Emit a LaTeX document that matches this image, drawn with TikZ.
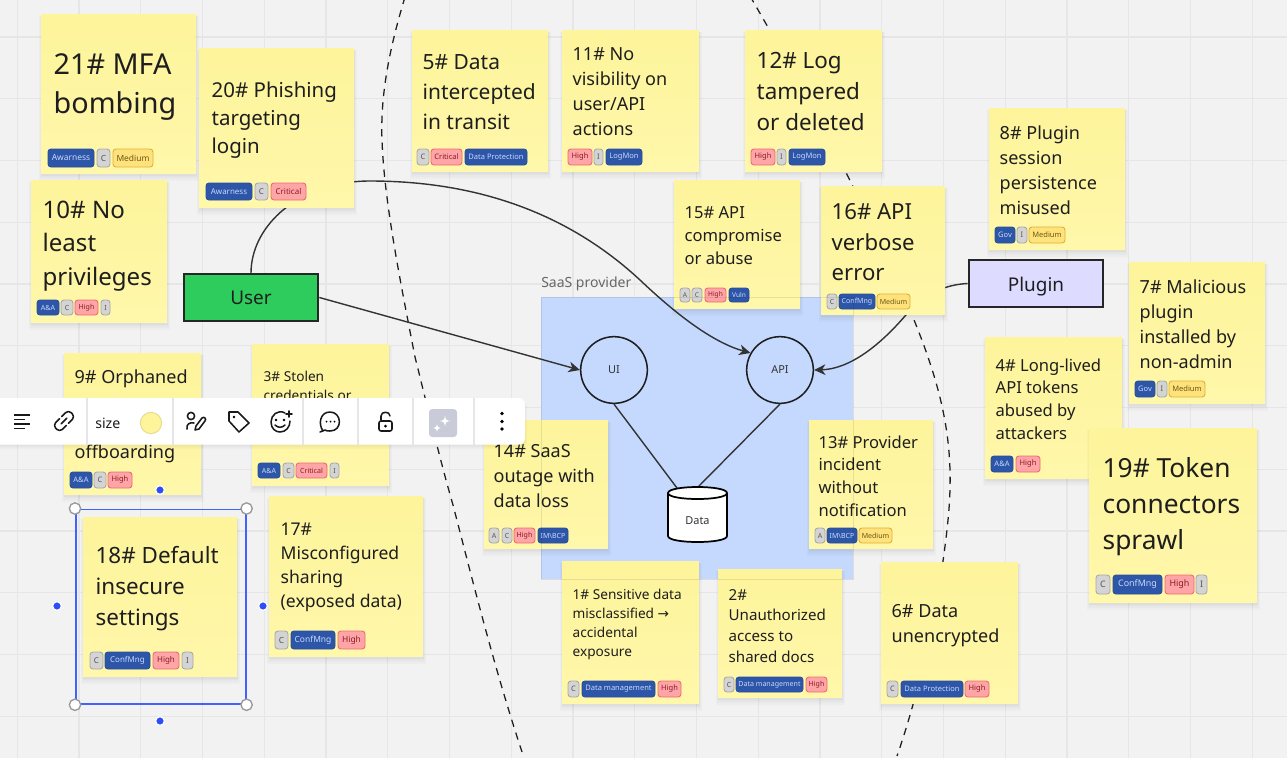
\documentclass[tikz,border=0pt]{standalone}
\usepackage{fontspec}
\setmainfont{Noto Sans}
\newfontfamily\arrowfont{DejaVu Sans}
\usetikzlibrary{arrows.meta,shapes.geometric,calc}
\definecolor{bgc}{HTML}{F2F2F2}
\definecolor{gridc}{HTML}{E6E6E6}
\definecolor{notetop}{HTML}{FDF49B}
\definecolor{notebot}{HTML}{FFF7AA}
\definecolor{inkc}{HTML}{1E1E1E}
\definecolor{linec}{HTML}{333333}
\definecolor{tbluef}{HTML}{2D56A8}
\definecolor{tblued}{HTML}{2A4F9E}
\definecolor{tbluet}{HTML}{C9D8FA}
\definecolor{tgrayf}{HTML}{D4D4D4}
\definecolor{tgrayd}{HTML}{A8A8A8}
\definecolor{tgrayt}{HTML}{555555}
\definecolor{tredf}{HTML}{FFA5A7}
\definecolor{tredd}{HTML}{EC6A70}
\definecolor{tredt}{HTML}{8A1C24}
\definecolor{tyelf}{HTML}{FFE27C}
\definecolor{tyeld}{HTML}{DDB035}
\definecolor{tyelt}{HTML}{6B5A12}
\definecolor{selc}{HTML}{4262FF}
\definecolor{dotc}{HTML}{2F4DF5}
\definecolor{sepc}{HTML}{E6E6EA}
\definecolor{saasc}{HTML}{C4D9FD}
\tikzset{
  notebox/.style={anchor=north west,inner sep=0pt,outer sep=0pt,shade,top color=notetop,bottom color=notebot},
  notetext/.style={anchor=north west,inner sep=0pt,align=left,text=inkc},
  softshadow/.style={black,opacity=.02},
  tagbase/.style={rounded corners=2.2pt,line width=.65pt,inner sep=0pt},
  tb/.style={tagbase,fill=tbluef,draw=tblued,text=tbluet},
  tg/.style={tagbase,fill=tgrayf,draw=tgrayd,text=tgrayt},
  tr/.style={tagbase,fill=tredf,draw=tredd,text=tredt},
  ty/.style={tagbase,fill=tyelf,draw=tyeld,text=tyelt},
  actor/.style={draw=black!85,line width=1.5pt,text=inkc,font=\fontsize{14.2pt}{16pt}\selectfont,inner sep=0pt,text depth=0pt},
  svc/.style={circle,draw=inkc,line width=1.15pt,minimum size=50pt,inner sep=0pt,text=linec,font=\fontsize{8.2pt}{10pt}\selectfont},
  conn/.style={draw=linec,line width=1.05pt},
  arrowed/.style={conn,-{Stealth[length=8.5pt,width=8pt,inset=2.6pt]}},
  bound/.style={draw=inkc,line width=.95pt,dash pattern=on 5.5pt off 4.6pt},
  handle/.style={circle,fill=white,draw=black!40,line width=1pt,minimum size=8.5pt,inner sep=0pt},
  bluedot/.style={circle,fill=dotc,draw=white,line width=.9pt,minimum size=6.5pt,inner sep=0pt},
  icon/.style={draw=black!90,line width=1.15pt,line cap=round,line join=round},
  tbsep/.style={draw=sepc,line width=.8pt}
}
% id x0 y0 x1 y1
\newcommand\notebox[5]{%
  \fill[softshadow] ({#2-2},{#3+2}) rectangle ({#4+3},{#5+8});
  \fill[softshadow] ({#2-1},{#3+2}) rectangle ({#4+2},{#5+6});
  \fill[softshadow] (#2,{#3+2}) rectangle ({#4+1},{#5+4});
  \fill[softshadow] (#2,{#3+2}) rectangle ({#4+1},{#5+2.5});
  \node[notebox,minimum width={(#4-#2)*0.75pt},minimum height={(#5-#3)*0.75pt}] (#1) at (#2,#3) {};}
% id x baseline fontpx spacingpx text
\newcommand\notetxt[6]{%
  \pgfmathsetmacro\nfs{#4*0.75*0.975}\pgfmathsetmacro\nls{#5*0.75}\pgfmathsetmacro\nem{#4*0.975}%
  \node[notetext,font=\fontsize{\nfs pt}{\nls pt}\selectfont] (#1) at ({#2-0.6},{#3-\nem}) {\rule{0pt}{1em}#6};}
% id y0 y1 list of style/x0/x1/text
\newcommand\tagrow[4]{%
  \pgfmathsetmacro\tfs{(#3-#2)*0.75*0.47}%
  \foreach \st/\xa/\xb/\tx [count=\ti] in {#4}{%
    \node[\st,minimum width={(\xb-\xa)*0.75pt},minimum height={(#3-#2)*0.75pt},
      font=\fontsize{\tfs pt}{\tfs pt}\selectfont] (#1-\ti) at ({(\xa+\xb)/2},{(#2+#3)/2}) {\tx};}}
\begin{document}
\begin{tikzpicture}[x=0.75pt,y=-0.75pt]
\useasboundingbox (0,0) rectangle (1287,758);
\clip (0,0) rectangle (1287,758);
\fill[bgc] (0,0) rectangle (1287,758);
% grid
\foreach \k in {0,...,20}{\draw[gridc,line width=.85pt] ({17.25+61.75*\k},0) -- ({17.25+61.75*\k},758);}
\foreach \k in {0,...,11}{\draw[gridc,line width=.85pt] (0,{37+61.75*\k}) -- (1287,{37+61.75*\k});}
% trust boundaries
\coordinate (bla) at (405,-3);
\coordinate (blb) at (522,752);
\draw[bound] (bla) .. controls (392,40) and (380,90) .. (382,140) .. controls (384,200) and (400,280) .. (415,357) .. controls (427,405) and (440,460) .. (453,505) .. controls (475,590) and (495,670) .. (blb);
\coordinate (bra) at (750,-4);
\coordinate (brb) at (897,756);
\draw[bound] (bra) .. controls (790,65) and (850,170) .. (912,315) .. controls (945,395) and (955,450) .. (948,520) .. controls (940,600) and (920,690) .. (brb);
% provider
\node[anchor=north west,inner sep=0pt,outer sep=0pt,fill=saasc,minimum width=234pt,minimum height=211.5pt] (saas) at (541,297) {};
\node[anchor=base west,inner sep=0pt,text=black!60,font=\fontsize{10.5pt}{12pt}\selectfont] (saaslbl) at (541,287) {SaaS provider};
% nodes
\node[actor,fill={rgb,255:red,46;green,204;blue,92},minimum width=101pt,minimum height=35pt,text height=11.2pt] (user) at (251,297.5) {User};
\node[actor,fill={rgb,255:red,221;green,219;blue,255},minimum width=101pt,minimum height=35pt,text height=12pt] (plugin) at (1036,283.5) {Plugin};
\node[svc] (ui) at (614,370) {UI};
\node[svc] (api) at (780,370) {API};
\coordinate (dataL) at (677,488);
\coordinate (dataR) at (698,487);
% connectors
\draw[arrowed] (user.east) -- (ui.west);
\draw[arrowed] (user.north) .. controls (251,225) and (300,181) .. (370,181) .. controls (480,181) and (570,215) .. (640,280) .. controls (680,318) and (715,343) .. (api.150);
\draw[arrowed] (plugin.west) .. controls (935,285) and (917,303) .. (905,316) .. controls (880,345) and (850,369) .. (api.east);
\draw[conn] (ui.south) -- (dataL);
\draw[conn] (api.south) -- (dataR);
% data store
\filldraw[fill=white,draw=black,line width=1.3pt] (668,493) .. controls (668,485) and (727,485) .. (727,493) -- (727,536) .. controls (727,544) and (668,544) .. (668,536) -- cycle;
\draw[black,line width=1.3pt] (668,493) .. controls (668,501) and (727,501) .. (727,493);
\node[inner sep=0pt,text=linec,font=\fontsize{8.2pt}{10pt}\selectfont] (data) at (697.5,521) {Data};
% notes
\notebox{n21}{41}{14}{196}{173}
\notetxt{t21}{54}{74}{29.5}{39.5}{21\# MFA\\bombing}
\tagrow{g21}{149}{167}{tb/48/94/Awarness,tg/97/110/C,ty/113/153/Medium}
\notebox{n20}{199}{48}{354}{207}
\notetxt{t20}{212}{97}{21}{28}{20\# Phishing\\targeting\\login}
\tagrow{g20}{183}{200}{tb/206/252/Awarness,tg/255/268/C,tr/271/306/Critical}
\notebox{n10}{31}{180}{167}{322}
\notetxt{t10}{43}{218}{24.7}{33.5}{10\# No\\least\\privileges}
\tagrow{g10}{300}{315}{tb/37/59/A\&A,tg/61/73/C,tr/75/98/High,tg/101/110/I}
\notebox{n5}{412}{30}{548}{171}
\notetxt{t5}{423}{69}{21.5}{30}{5\# Data\\intercepted\\in transit}
\tagrow{g5}{149}{165}{tg/417/429/C,tr/431/462/Critical,tb/465/527/Data Protection}
\notebox{n11}{562}{30}{699}{171}
\notetxt{t11}{573}{60}{18.5}{25}{11\# No\\visibility on\\user/API\\actions}
\tagrow{g11}{149}{165}{tr/568/592/High,tg/594/603/I,tb/606/642/LogMon}
\notebox{n12}{745}{30}{882}{171}
\notetxt{t12}{757}{68}{23}{31}{12\# Log\\tampered\\or deleted}
\tagrow{g12}{149}{165}{tr/751/775/High,tg/777/786/I,tb/789/825/LogMon}
\notebox{n15}{674}{180}{800}{308}
\notetxt{t15}{685}{218}{17}{23}{15\# API\\compromise\\or abuse}
\tagrow{g15}{288}{302}{tg/680/690/A,tg/692/702/C,tr/705/726/High,tb/729/749/Vuln}
\notebox{n16}{821}{186}{945}{314}
\notetxt{t16}{832}{219.5}{22.7}{30.5}{16\# API\\verbose\\error}
\tagrow{g16}{294}{309}{tg/827/837/C,tb/839/875/ConfMng,ty/877/910/Medium}
\notebox{n8}{989}{108}{1125}{249}
\notetxt{t8}{1000}{139}{18.5}{25}{8\# Plugin\\session\\persistence\\misused}
\tagrow{g8}{227}{243}{tb/995/1015/Gov,tg/1017/1027/I,ty/1029/1065/Medium}
\notebox{n7}{1129}{262}{1265}{403}
\notetxt{t7}{1140}{293}{18.5}{25}{7\# Malicious\\plugin\\installed by\\non-admin}
\tagrow{g7}{381}{397}{tb/1135/1155/Gov,tg/1157/1167/I,ty/1169/1205/Medium}
\notebox{n4}{985}{337}{1122}{478}
\notetxt{t4}{996}{371}{17}{22.7}{4\# Long-lived\\API tokens\\abused by\\attackers}
\tagrow{g4}{456}{472}{tb/991/1013/A\&A,tr/1016/1040/High}
\notebox{n19}{1089}{428}{1257}{602}
\notetxt{t19}{1103}{477.5}{27}{36}{19\# Token\\connectors\\sprawl}
\tagrow{g19}{575}{594}{tg/1096/1110/C,tb/1113/1162/ConfMng,tr/1165/1194/High,tg/1196/1207/I}
\notebox{n14}{484}{420}{608}{548}
\notetxt{t14}{494}{457}{18.5}{25}{14\# SaaS\\outage with\\data loss}
\tagrow{g14}{528}{543}{tg/489/499/A,tg/502/512/C,tr/514/535/High,tb/538/568/{IM\textbackslash BCP}}
\notebox{n13}{809}{420}{933}{548}
\notetxt{t13}{819}{448}{17}{22.7}{13\# Provider\\incident\\without\\notification}
\tagrow{g13}{528}{543}{tg/815/825/A,tb/827/857/{IM\textbackslash BCP},ty/859/892/Medium}
\notebox{n1}{562}{561}{699}{703}
\notetxt{t1}{573}{599}{14}{19}{1\# Sensitive data\\misclassified {\arrowfont →}\\accidental\\exposure}
\tagrow{g1}{681}{697}{tg/568/579/C,tb/582/655/Data management,tr/658/681/High}
\notebox{n2}{718}{569}{842}{697}
\notetxt{t2}{729}{600}{15.5}{20.7}{2\#\\Unauthorized\\access to\\shared docs}
\tagrow{g2}{677}{692}{tg/724/734/C,tb/736/803/Data management,tr/806/827/High}
\notebox{n6}{881}{562}{1018}{703}
\notetxt{t6}{892}{617}{18.5}{25}{6\# Data\\unencrypted}
\tagrow{g6}{681}{697}{tg/887/898/C,tb/901/963/Data Protection,tr/965/989/High}
\notebox{n9}{64}{353}{201}{494}
\notetxt{t9a}{75}{383}{18.5}{25}{9\# Orphaned}
\notetxt{t9b}{75}{458}{18.5}{25}{offboarding}
\tagrow{g9}{472}{488}{tb/70/92/A\&A,tg/94/106/C,tr/108/132/High}
\notebox{n3}{252}{344}{389}{485}
\notetxt{t3}{264}{381}{14}{19}{3\# Stolen\\credentials or}
\tagrow{g3}{463}{478}{tb/258/280/A\&A,tg/283/294/C,tr/296/327/Critical,tg/330/339/I}
\notebox{n18}{83}{517}{237}{676}
\notetxt{t18}{96}{563}{23}{31}{18\# Default\\insecure\\settings}
\tagrow{g18}{652}{669}{tg/90/103/C,tb/105/150/ConfMng,tr/153/179/High,tg/182/193/I}
\notebox{n17}{269}{496}{423}{656}
\notetxt{t17}{281}{535}{18}{24}{17\#\\Misconfigured\\sharing\\(exposed data)}
\tagrow{g17}{631}{649}{tg/275/288/C,tb/291/335/ConfMng,tr/338/365/High}
% faint edge of provider box seen through notes
\draw[black,opacity=.09,line width=.7pt] (saas.north west) rectangle (saas.south east);
% selection
\node[anchor=north west,draw=selc,line width=1.2pt,inner sep=0pt,minimum width=127.5pt,minimum height=146pt] (sel) at (75,508.5) {};
\node[handle] (h1) at (sel.north west) {};
\node[handle] (h2) at (sel.north east) {};
\node[handle] (h3) at (sel.south west) {};
\node[handle] (h4) at (sel.south east) {};
\node[bluedot] (d1) at (160,490) {};
\node[bluedot] (d2) at (57,606) {};
\node[bluedot] (d3) at (263,606) {};
\node[bluedot] (d4) at (160,721) {};
% toolbar
\fill[softshadow,rounded corners=5pt] (-6,400) rectangle (527,449);
\fill[softshadow,rounded corners=5pt] (-6,400) rectangle (526,447.5);
\fill[softshadow,rounded corners=5pt] (-6,400) rectangle (525.5,446.5);
\node[anchor=north west,fill=white,rounded corners=5pt,inner sep=0pt,outer sep=0pt,minimum width=398.3pt,minimum height=35pt] (bar) at (-6,398) {};
\foreach \x in {87,173,303,358,413,474}{\draw[tbsep] (\x,398) -- (\x,445);}
% align icon
\foreach \yy/\xe in {415/30,419.5/25,424/30,428.5/25}{\draw[icon,line width=1.4pt,line cap=butt] (14,\yy) -- (\xe,\yy);}
% link icon
\begin{scope}[shift={(64,421)},rotate=45]
\draw[icon,rounded corners=3pt] (-1.5,-4.8) -- (-11,-4.8) -- (-11,4.8) -- (-1.5,4.8);
\draw[icon,rounded corners=3pt] (1.5,-4.8) -- (11,-4.8) -- (11,4.8) -- (1.5,4.8);
\draw[icon] (-4,0) -- (4,0);
\end{scope}
\node[anchor=base west,inner sep=0pt,text=inkc,font=\fontsize{10.6pt}{12pt}\selectfont] (sizelbl) at (95,428) {size};
\node[circle,fill=notetop,draw=black!10!notetop,line width=.7pt,minimum size=16pt,inner sep=0pt] (swatch) at (151,423) {};
% pen + person
\draw[icon] (191,416) circle[radius=3.6];
\draw[icon] (187,429) .. controls (186,424) and (190,422) .. (194,423);
\draw[icon] (195,430) -- (196,426) -- (202,418) .. controls (204,416) and (207,419) .. (205,421) -- (199,429) -- cycle;
% tag
\draw[icon] (229,412) -- (238,412) -- (249,423) -- (239,432) -- (229,421) -- cycle;
\fill[black] (234,417) circle[radius=1.3];
% smile
\draw[icon] (285,413) .. controls (278,409) and (271,415) .. (271,422) .. controls (271,429) and (276,432) .. (280,432) .. controls (286,432) and (290,427) .. (290,421);
\fill[black] (276,420) circle[radius=1.3];
\fill[black] (284,420) circle[radius=1.3];
\draw[icon] (275,425) .. controls (278,428) and (282,428) .. (285,425);
\draw[icon] (289,411) -- (289,417) (286,414) -- (292,414);
% comment
\draw[icon] (323,431) .. controls (318,424) and (320,412) .. (330,412) .. controls (342,412) and (343,431) .. (330,431) .. controls (328,431) and (326,431) .. (325,430) -- (320,432) -- cycle;
\foreach \x in {326.5,330.5,334.5}{\fill[black] (\x,421.5) circle[radius=1];}
% lock
\draw[icon,rounded corners=1.5pt] (379,421) rectangle (392,431);
\draw[icon] (381,420) -- (381,416) .. controls (381,411) and (390,411) .. (390,416);
\fill[black] (385.5,426) circle[radius=1.5];
% sparkle
\fill[fill={rgb,255:red,201;green,203;blue,216},rounded corners=2.5pt] (429,409) rectangle (457,437);
\foreach \cx/\cy/\r in {445/421/5.5,437/428/3.6}{\fill[white] (\cx,\cy-\r) .. controls (\cx+.8,\cy-.8) .. (\cx+\r,\cy) .. controls (\cx+.8,\cy+.8) .. (\cx,\cy+\r) .. controls (\cx-.8,\cy+.8) .. (\cx-\r,\cy) .. controls (\cx-.8,\cy-.8) .. cycle;}
% more
\foreach \yy in {413.5,421.5,429}{\fill[black] (502,\yy) circle[radius=1.9];}
\end{tikzpicture}
\end{document}
